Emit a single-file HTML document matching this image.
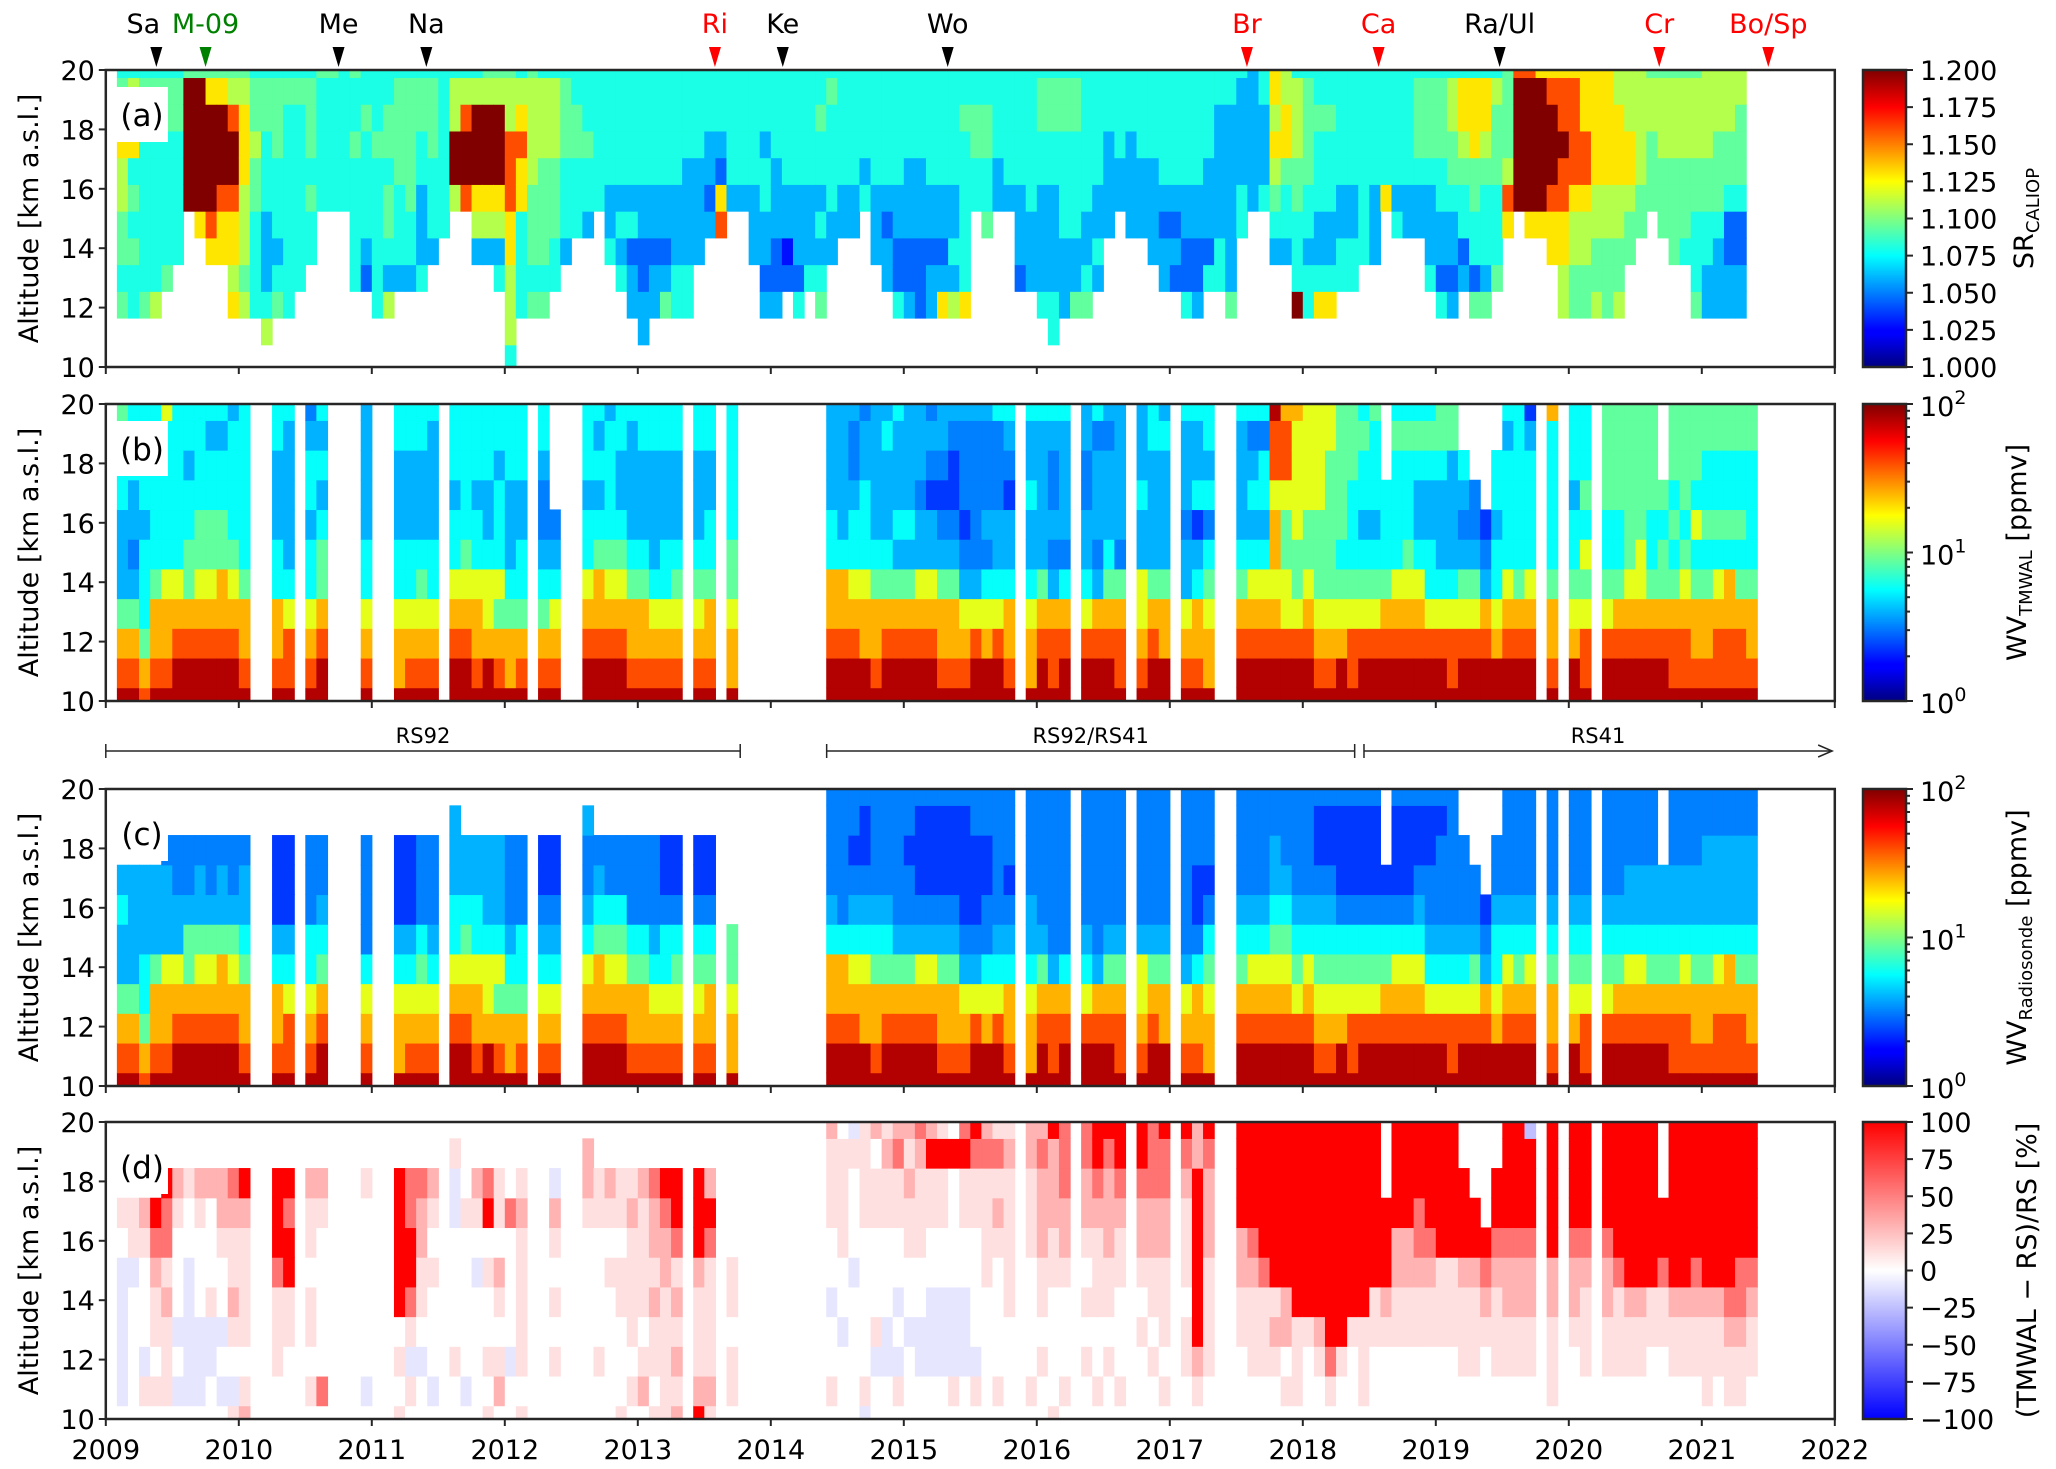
<!DOCTYPE html>
<html><head><meta charset="utf-8"><title>SR and water vapour time series</title>
<style>
html,body{margin:0;padding:0;background:#fff;}
svg{display:block;font-family:"DejaVu Sans","Liberation Sans",sans-serif;}
</style></head>
<body>
<svg id="fig" xmlns="http://www.w3.org/2000/svg" width="2056" height="1469" viewBox="0 0 2056 1469">
<defs>
<linearGradient id="jetg" x1="0" y1="1" x2="0" y2="0">
<stop offset="0" stop-color="#000080"/><stop offset="0.11" stop-color="#0000ff"/><stop offset="0.125" stop-color="#0000ff"/>
<stop offset="0.34" stop-color="#00dbff"/><stop offset="0.375" stop-color="#00ffff"/><stop offset="0.5" stop-color="#80ff80"/>
<stop offset="0.625" stop-color="#ffff00"/><stop offset="0.875" stop-color="#ff0000"/><stop offset="1" stop-color="#800000"/>
</linearGradient>
<linearGradient id="bwrg" x1="0" y1="1" x2="0" y2="0">
<stop offset="0" stop-color="#0000ff"/><stop offset="0.5" stop-color="#ffffff"/><stop offset="1" stop-color="#ff0000"/>
</linearGradient>
</defs>
<g id="cells"></g>
<g id="axes"></g>
</svg>
<script>
// ---------- data ----------
const startYear = 2009;
const yearTicks = [2009,2010,2011,2012,2013,2014,2015,2016,2017,2018,2019,2020,2021,2022];
const altTicks = [10,12,14,16,18,20];
const altEdgesA = [10,10.75,11.65,12.55,13.45,14.35,15.25,16.15,17.05,17.95,18.85,19.75,20];
const altEdgesWV = [10,10.45,11.45,12.45,13.45,14.45,15.45,16.45,17.45,18.45,19.45,20];
const levelsSR = [1.005,1.028,1.045,1.06,1.08,1.094,1.11,1.13,1.16,1.2];
const levelsWV = [1.58,2.29,3.16,3.98,5.75,8.71,15.8,25.1,39.8,79.4];
const levelsDiff = [-60,-40,-25,-10,0,12,30,55,100];
const eventNames = ["Sa","M-09","Me","Na","Ri","Ke","Wo","Br","Ca","Ra/Ul","Cr","Bo/Sp"];
const eventDates = [2009.38,2009.75,2010.75,2011.41,2013.58,2014.09,2015.33,2017.58,2018.57,2019.48,2020.68,2021.5];
const eventColors = ["#000","#008000","#000","#000","#ff0000","#000","#000","#ff0000","#ff0000","#000","#ff0000","#ff0000"];
const srTicks = [1.000,1.025,1.050,1.075,1.100,1.125,1.150,1.175,1.200];
const diffTicks = [-100,-75,-50,-25,0,25,50,75,100];

// panel (a) SR_CALIOP, one string per month (index 0 = Jan 2009), chars bottom->top, '.' = no data
const dataSR = ["",
"..5455667554","..4454547564","..5444444554","..6444444454","...544444554","....44444554","......999995",".....7999995","....78999975","....77899975","..7677899865",
"..6566677765","..4444556554",".64333444554","..5434445554","..4444444454","...444444454","....44545554","......444445","......444445","......444444","...444445445","...234444544",
"..4444445444","..6345545544","...344455554","...344555554","...433344554","....34445554",".....4444444","......699664","......899864","....36799964","....36799965","...436799965",
"466677888665","..4444778764","..5455566665","..5455556664","...445556664","....34445554",".....4445544",".....3445444","......444444","....43344444","...434344444","..3324344444",
".33223344444","..3323344444","..5323344444","..4433344444","..4433334444","....33334444",".....3233444",".....8723444","......344444","......344444","....33344444","..3233443444",
"..3223334444","...213344444","..4233344444","...433344444","..5434344544","....33444454",".....3344444",".....3344444","......434444","....33344444","...332344444","..4223344444",
"..3223334444","..2223334444","..3323344444","..7323344444","..6343344444","..7444444544","......445544",".....5445544","......334444","......344444","...233344444","...333444444",
"..4333344554",".44333344554","..3334444554","..5334444554","..5433444444","...343344444",".....3333444","......334444",".....3333444",".....3334444","....33334444","...332344444",
"...232344444","..4223344444","..3223344444","...423334444","...443333344","..5333333344",".....4433334","......333333","......433344","....34567677","....34457766","..9444556664",
"..4434455554","..7433444544","..7433444544","...443344444","...443344444","....44444444","....33344444","......744444",".....4344444",".....3344444",".....3345554","...433345554",
"..4233445554","..3233455664","...324456774","..5244557774","..5344456774","...544455564",".....7865555","......999998",".....7999998",".....7999997","....77899987","..6677889887",
"..5566788887","..5566788777","..6556677777","..5556677777","..6556677766","....55677666",".....5566666","......555665",".....5556665","....55556665","....45556665","..5444556665",
"..3344556666","..3334555666","..3322455666","..3322455566",""];

// panel (b) WV TMWAL
const dataWVL = ["",
"98753334445","98753233444","87544434444","98775444444","98776444446","99876444444","99875544344","99876554444","99876554434","99877554434","99876544443",
"98775444444","","","98774433344","98864333334","","98764434432","99875543434","","","","98764433333",
"","","97764433344","98764433344","98765433344","98764433334","","99876443444","99876544444","98776443444","99766433444","98756444344",
"97754333444","98754433444","","98754322344","9876432....","","","99876443444","99877543434","99876544443","99876543344","98775433334",
"98775433344","98764333344","98764433344","98765433344","","98765433344","98775443344","","97765544444","","","",
"","","","","","99877443333","99877433333","99876443223","99776444332","98775433333","99875433343","99875343334",
"99875343333","99876332333","99876331232","98775321233","98775321123","98763212223","99863222223","99764232223","99864332224","98774331234","","97764334334",
"99875333334","98873232234","99874233334","","99864332233","99873233324","99875433323","98875233333","","98766334333","99875333344","99775333343",
"","98763323334","98774314334","97765424344","","","99875433334","99876434324","99876434424","99876776889","99866556887","99865566667",
"99876556666","98765556666","98765555566","99765455555","98865444555","99865434454","99865434445","99875444...","99876444454","99876544454","99876433454","99864433454",
"99864333455","98864333355","998653234..","99865322...","9987321....","997644344..","99876444434","99875444444","99876444431","","98775444447","",
"99765443444","98865645444","","99865445555","99875445555","99876555555","99876655555","99875445555","99875545...","98875454555","98876545555","98775464555",
"98775454455","98876454455","98877454455","98875454455","98775444455"];

// panel (c) WV radiosonde
const dataWVR = ["",
"98753343...","98753333...","87544333...","98775333...","987763332..","998763322..","998755322..","998765332..","998765322..","998775332..","998765322..",
"987754332..","","","987743111..","988643111..","","987644222..","998754322..","","","","987642222..",
"","","977643111..","987643111..","987654222..","987643222..","","9987644333.","998765433..","987764433..","997664333..","987564333..",
"977543222..","987544222..","","987643211..","987643211..","","","9987643223.","998775432..","998765422..","998765422..","987754222..",
"987754222..","987643222..","987644211..","987654211..","","987654211..","987754211..","","977655.....","","","",
"","","","","","99877432222","99877422222","99876432122","99776432112","98775432222","99875432222","99875322222",
"99875322122","99876321112","99876321112","98775321112","98775321112","98763211112","99863211122","99764221122","99864322222","98774321222","","97764332222",
"99875322222","98873222222","99874222222","","99864322222","99873222222","99875322222","98875322222","","98766322222","99875322222","99775322222",
"","98763222222","98774211222","97765421222","","","99875432222","99876432222","99876432222","99876543322","99876543222","99865432222",
"99876432222","98765432112","98765432112","99765421112","98865421112","99865421112","99865421112","99875421...","99876421112","99876421112","99876432112","99864322112",
"99864322212","98864322222","998643222..","99865322...","9987321....","997644322..","99876432222","99875432222","99876432222","","98775432222","",
"99765432222","98865432222","","99865432222","99875432222","99876433222","99876433222","99875433222","99875433...","98875433222","98876433222","98775433222",
"98775433322","98876433322","98877433322","98875433322","98775433322"];

// panel (d) relative difference, codes index levelsDiff
const dataDiff = ["",
"43333345...","44444355...","45344456...","45455678...","455565778..","434344456..","433333445..","433344456..","443354446..","434344566..","534565567..",
"654555568..","","","445557888..","444558878..","","454554556..","474444456..","","","","434444445..",
"","","545488888..","453578877..","443455667..","434445456..","","4454444335.","434444454..","444443456..","545445487..","465456455..",
"443444474..","545555565..","","444444444..","445454563..","","","4444444566.","445444455..","444445456..","544455455..","454555565..",
"465455556..","545565667..","555556678..","656565788..","","865556888..","565555786..","","455455.....","","","",
"","","","","","45443445556","44434455554","44444344453","35444445555","44354445546","44334445565","45343445576",
"44434455656","44334455567","44333445586","44333445585","45333444484","44333445587","45344445578","44444555576","45444456575","44445555565","","45444455566",
"44545566676","54444556668","45444566777","","44545456677","45445556788","44545566678","45444556788","","44454566788","44545566777","45455566778",
"","44554555678","45688888866","44555566678","","","44455668888","44555678888","44555788888","44565888888","45466888888","45558888888",
"44458888888","44568888888","45788888888","44588888888","44458888888","45558888888","44455888888","44456888...","44455668888","44455668888","44455677888","44455678888",
"44455588888","44455588888","445556888..","44555688...","4445678....","445556788..","44556678888","44556678888","44556678882","","45556688888","",
"44456678888","44555678888","","44556678888","44555788888","44556888888","44556888888","44455888888","44455788...","44556888888","44556888888","44556788888",
"45556888888","44556888888","45567888888","45567788888","44556788888"];

// ---------- layout ----------
const X0 = 105.8, YW = 133.0, PW = 1729, PH = 297;
const panelTops = [70, 404, 789, 1122];
const panelTags = ["(a)","(b)","(c)","(d)"];
const panelKeys = ["sr","wv-tmwal","wv-radiosonde","difference"];
const NS = "http://www.w3.org/2000/svg";
const svg = document.getElementById("fig");
const gc = document.getElementById("cells");
const ga = document.getElementById("axes");

function xOfYear(y){ return X0 + (y - startYear) * YW; }
function xOfMonth(m){ return X0 + m / 12 * YW; }
function yOfAlt(top, a){ return top + (20 - a) / 10 * PH; }
function clip(v){ return Math.max(0, Math.min(1, v)); }
function jet(t){
  const r = clip(1.5 - Math.abs(4*t - 3)), g = clip(1.5 - Math.abs(4*t - 2)), b = clip(1.5 - Math.abs(4*t - 1));
  return "rgb(" + Math.round(r*255) + "," + Math.round(g*255) + "," + Math.round(b*255) + ")";
}
function bwr(t){
  let r, g, b;
  if (t < 0.5) { r = 2*t; g = 2*t; b = 1; } else { r = 1; g = 2*(1-t); b = 2*(1-t); }
  return "rgb(" + Math.round(r*255) + "," + Math.round(g*255) + "," + Math.round(b*255) + ")";
}
function colorSR(v){ return jet((v - 1) / 0.2); }
function colorWV(v){ return jet(Math.log10(v) / 2); }
function colorDiff(v){ return bwr((v + 100) / 200); }

function el(tag, parent){ const e = document.createElementNS(NS, tag); parent.appendChild(e); return e; }

function drawCells(data, levels, edges, top, colorFn, name){
  const w = YW / 12;
  for (let m = 0; m < data.length; m++) {
    const s = data[m];
    if (!s) continue;
    for (let r = 0; r < s.length; r++) {
      const ch = s[r];
      if (ch === ".") continue;
      const v = levels[+ch];
      const y1 = yOfAlt(top, edges[r+1]), y0 = yOfAlt(top, edges[r]);
      const rc = el("rect", gc);
      rc.setAttribute("x", xOfMonth(m).toFixed(2));
      rc.setAttribute("y", y1.toFixed(2));
      rc.setAttribute("width", (w + 0.6).toFixed(2));
      rc.setAttribute("height", (y0 - y1 + 0.6).toFixed(2));
      rc.setAttribute("fill", colorFn(v));
      
      
    }
  }
}
drawCells(dataSR, levelsSR, altEdgesA, panelTops[0], colorSR, "sr");
drawCells(dataWVL, levelsWV, altEdgesWV, panelTops[1], colorWV, "wv-tmwal");
drawCells(dataWVR, levelsWV, altEdgesWV, panelTops[2], colorWV, "wv-radiosonde");
drawCells(dataDiff, levelsDiff, altEdgesWV, panelTops[3], colorDiff, "difference");

function text(parent, x, y, str, size, anchor, fill){
  const t = el("text", parent);
  t.setAttribute("x", x); t.setAttribute("y", y);
  t.setAttribute("font-size", size);
  t.setAttribute("text-anchor", anchor || "start");
  t.setAttribute("fill", fill || "#000");
  t.textContent = str;
  return t;
}
function line(parent, x1, y1, x2, y2, sw){
  const l = el("line", parent);
  l.setAttribute("x1", x1); l.setAttribute("y1", y1); l.setAttribute("x2", x2); l.setAttribute("y2", y2);
  l.setAttribute("stroke", "#262626"); l.setAttribute("stroke-width", sw || 2);
  return l;
}

// panels: frames, ticks, labels
for (let p = 0; p < 4; p++) {
  const top = panelTops[p];
  const fr = el("rect", ga);
  fr.setAttribute("x", X0); fr.setAttribute("y", top); fr.setAttribute("width", PW); fr.setAttribute("height", PH);
  fr.setAttribute("fill", "none"); fr.setAttribute("stroke", "#262626"); fr.setAttribute("stroke-width", 2.5);
  
  
  for (const a of altTicks) {
    const y = yOfAlt(top, a);
    const tk = line(ga, X0 - 7, y, X0, y, 2);
    
    
    const tl = text(ga, X0 - 11, y + 10, String(a), 27, "end");
    
    
  }
  for (const yr of yearTicks) {
    const x = xOfYear(yr);
    const tk = line(ga, x, top + PH, x, top + PH + 7, 2);
    
    
  }
  const yl = text(ga, 0, 0, "Altitude [km a.s.l.]", 27, "middle");
  yl.setAttribute("transform", "translate(38," + (top + PH/2) + ") rotate(-90)");
  
  
  const bx = el("rect", ga);
  bx.setAttribute("x", 116); bx.setAttribute("y", top + 17); bx.setAttribute("width", 52); bx.setAttribute("height", 55); bx.setAttribute("fill", "#fff");
  
  
  const pl = text(ga, 142, top + 56, panelTags[p], 31, "middle");
  
  
}
for (const yr of yearTicks) {
  const t = text(ga, xOfYear(yr), 1459, String(yr), 27, "middle");
  
  
}

// event markers
for (let i = 0; i < eventNames.length; i++) {
  const x = xOfYear(eventDates[i]);
  const tri = el("polygon", ga);
  tri.setAttribute("points", (x-6) + ",47 " + (x+6) + ",47 " + x + ",67");
  tri.setAttribute("fill", eventColors[i]);
  
  
  const lx = i === 0 ? x - 13 : x;
  const t = text(ga, lx, 33, eventNames[i], 27, "middle", eventColors[i]);
  
  
}

// radiosonde period brackets
const rsNames = ["RS92","RS92/RS41","RS41"];
const rsStart = [2009.0, 2014.42, 2018.46];
const rsEnd = [2013.77, 2018.39, 2021.98];
for (let i = 0; i < 3; i++) {
  const x1 = xOfYear(rsStart[i]), x2 = xOfYear(rsEnd[i]);
  const l = line(ga, x1, 751, x2, 751, 1.5);
  
  
  const b1 = line(ga, x1, 744, x1, 758, 1.5);
  
  
  if (i < 2) {
    const b2 = line(ga, x2, 744, x2, 758, 1.5);
    
    
  } else {
    const ar = el("polyline", ga);
    ar.setAttribute("points", (x2-14) + ",745 " + x2 + ",751 " + (x2-14) + ",757");
    ar.setAttribute("fill", "none"); ar.setAttribute("stroke", "#262626"); ar.setAttribute("stroke-width", 1.5);
    
    
  }
  const t = text(ga, (x1 + x2) / 2, 743, rsNames[i], 21, "middle");
  
  
}

// colorbars
const CBX = 1863, CBW = 43;
const cbFills = ["url(#jetg)","url(#jetg)","url(#jetg)","url(#bwrg)"];
for (let p = 0; p < 4; p++) {
  const top = panelTops[p];
  const cb = el("rect", ga);
  cb.setAttribute("x", CBX); cb.setAttribute("y", top); cb.setAttribute("width", CBW); cb.setAttribute("height", PH);
  cb.setAttribute("fill", cbFills[p]); cb.setAttribute("stroke", "#262626"); cb.setAttribute("stroke-width", 2.5);
  
  
}
function cbTick(top, frac, len){
  const y = top + PH - frac * PH;
  const l = line(ga, CBX + CBW, y, CBX + CBW + len, y, 2);
  
  
  return y;
}
for (const v of srTicks) {
  const y = cbTick(panelTops[0], (v - 1) / 0.2, 7);
  const t = text(ga, CBX + CBW + 14, y + 10, v.toFixed(3), 27);
  
  
}
for (const p of [1, 2]) {
  for (let e = 0; e <= 2; e++) {
    const y = cbTick(panelTops[p], e / 2, 7);
    const t = text(ga, CBX + CBW + 14, y + 12, "10", 27);
    const sup = el("tspan", t);
    sup.setAttribute("dy", -12); sup.setAttribute("font-size", 19);
    sup.textContent = String(e);
    
    
    if (e < 2) for (let k = 2; k <= 9; k++) cbTick(panelTops[p], (e + Math.log10(k)) / 2, 4);
  }
}
for (const v of diffTicks) {
  const y = cbTick(panelTops[3], (v + 100) / 200, 7);
  const t = text(ga, CBX + CBW + 14, y + 10, v < 0 ? "\u2212" + (-v) : String(v), 27);
  
  
}
function cbLabel(p, main, sub, rest, x){
  const t = text(ga, 0, 0, main, 27, "middle");
  if (sub) {
    const s = el("tspan", t); s.setAttribute("font-size", 18); s.setAttribute("dy", 6); s.textContent = sub;
    const r = el("tspan", t); r.setAttribute("dy", -6); r.textContent = rest;
  }
  t.setAttribute("transform", "translate(" + x + "," + (panelTops[p] + PH/2) + ") rotate(-90)");
  
  
}
cbLabel(0, "SR", "CALIOP", "", 2033);
cbLabel(1, "WV", "TMWAL", " [ppmv]", 2026);
cbLabel(2, "WV", "Radiosonde", " [ppmv]", 2026);
cbLabel(3, "(TMWAL \u2212 RS)/RS [%]", "", "", 2036);
</script>
</body></html>
